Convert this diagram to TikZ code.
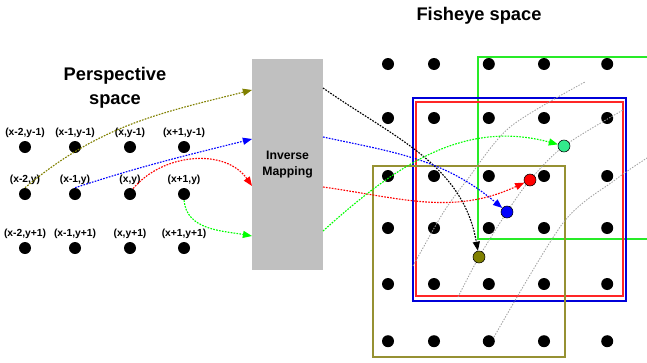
\documentclass[tikz,border=0pt]{standalone}
\usepackage{fontspec}
\setmainfont{Liberation Sans}
\usetikzlibrary{arrows.meta}
\definecolor{olv}{RGB}{128,128,0}
\definecolor{olvbox}{RGB}{150,145,50}
\definecolor{sprg}{RGB}{50,235,140}
\definecolor{grn}{RGB}{40,235,40}
\definecolor{boxgray}{RGB}{192,192,192}
\begin{document}
\begin{tikzpicture}
\tikzstyle{every node}=[inner sep=0pt]
\tikzstyle{pt}=[circle,fill=black,minimum size=0.3cm]
\tikzstyle{hit}=[circle,draw=black,line width=0.4pt,minimum size=0.3cm]
\tikzstyle{lbl}=[font=\fontsize{7.3}{8}\selectfont\bfseries,label distance=0.6mm]
\tikzstyle{ttl}=[font=\fontsize{13}{17}\selectfont\bfseries,align=center]
\tikzstyle{flow}=[dash pattern=on 1.2pt off 0.9pt,line width=0.8pt,
-{Triangle[length=6.5pt,width=5pt]}]
\tikzstyle{warp}=[gray!75,dash pattern=on 1pt off 1pt,line width=0.6pt]
\useasboundingbox (0,0) rectangle (16.175,9.05);

% perspective grid
\draw (2.875,6.85) node (ptitle) [ttl] {Perspective\\space};
\draw (0.625,5.375) node (l11) [pt,label={[lbl]above:{(x-2,y-1)}}] {};
\draw (1.875,5.375) node (l12) [pt,label={[lbl]above:{(x-1,y-1)}}] {};
\draw (3.25,5.375) node (l13) [pt,label={[lbl]above:{(x,y-1)}}] {};
\draw (4.6,5.375) node (l14) [pt,label={[lbl]above:{(x+1,y-1)}}] {};
\draw (0.625,4.2) node (l21) [pt,label={[lbl]above:{(x-2,y)}}] {};
\draw (1.875,4.2) node (l22) [pt,label={[lbl]above:{(x-1,y)}}] {};
\draw (3.25,4.2) node (l23) [pt,label={[lbl]above:{(x,y)}}] {};
\draw (4.6,4.2) node (l24) [pt,label={[lbl]above:{(x+1,y)}}] {};
\draw (0.625,2.85) node (l31) [pt,label={[lbl]above:{(x-2,y+1)}}] {};
\draw (1.875,2.85) node (l32) [pt,label={[lbl]above:{(x-1,y+1)}}] {};
\draw (3.25,2.85) node (l33) [pt,label={[lbl]above:{(x,y+1)}}] {};
\draw (4.6,2.85) node (l34) [pt,label={[lbl]above:{(x+1,y+1)}}] {};

% mapping box
\draw (7.19,4.94) node (inv) [fill=boxgray,minimum width=1.775cm,minimum height=5.275cm,
font=\fontsize{8.7}{11}\selectfont\bfseries,align=center] {Inverse\\Mapping};
\coordinate (i1) at (6.3,6.8);
\coordinate (i2) at (6.3,5.575);
\coordinate (i3) at (6.3,4.4);
\coordinate (i4) at (6.3,3.15);
\coordinate (e1) at (8.075,6.85);
\coordinate (e2) at (8.075,5.625);
\coordinate (e3) at (8.075,4.375);
\coordinate (e4) at (8.075,3.275);

% fisheye grid
\draw (11.975,8.65) node (ftitle) [ttl] {Fisheye space};
\draw (9.7,7.45) node (r11) [pt] {};
\draw (10.85,7.45) node (r12) [pt] {};
\draw (12.22,7.45) node (r13) [pt] {};
\draw (13.6,7.45) node (r14) [pt] {};
\draw (15.18,7.45) node (r15) [pt] {};
\draw (9.7,6.1) node (r21) [pt] {};
\draw (10.85,6.1) node (r22) [pt] {};
\draw (12.22,6.1) node (r23) [pt] {};
\draw (13.6,6.1) node (r24) [pt] {};
\draw (15.18,6.1) node (r25) [pt] {};
\draw (9.7,4.65) node (r31) [pt] {};
\draw (10.85,4.65) node (r32) [pt] {};
\draw (12.22,4.65) node (r33) [pt] {};
\draw (13.6,4.65) node (r34) [pt] {};
\draw (15.18,4.65) node (r35) [pt] {};
\draw (9.7,3.35) node (r41) [pt] {};
\draw (10.85,3.35) node (r42) [pt] {};
\draw (12.22,3.35) node (r43) [pt] {};
\draw (13.6,3.35) node (r44) [pt] {};
\draw (15.18,3.35) node (r45) [pt] {};
\draw (9.7,1.95) node (r51) [pt] {};
\draw (10.85,1.95) node (r52) [pt] {};
\draw (12.22,1.95) node (r53) [pt] {};
\draw (13.6,1.95) node (r54) [pt] {};
\draw (15.18,1.95) node (r55) [pt] {};
\draw (9.7,0.52) node (r61) [pt] {};
\draw (10.85,0.52) node (r62) [pt] {};
\draw (12.22,0.52) node (r63) [pt] {};
\draw (13.6,0.52) node (r64) [pt] {};
\draw (15.18,0.52) node (r65) [pt] {};

% windows
\draw [grn,line width=1pt] (16.175,7.625) -- (11.95,7.625) -- (11.95,3.075) -- (16.175,3.075);
\draw [blue!85!black,line width=1pt] (10.325,1.525) rectangle (15.65,6.6);
\draw [red!85,line width=1pt] (10.4,1.65) rectangle (15.575,6.5);
\draw [olvbox,line width=1pt] (9.325,0.125) rectangle (14.125,4.9);

% warped lines
\draw [warp] plot [smooth] coordinates {(10.325,2.4) (11.075,3.725) (11.675,4.55) (12.75,5.875) (14.625,7.0)};
\draw [warp] plot [smooth] coordinates {(11.45,1.625) (11.975,2.625) (12.675,3.75) (13.25,4.55) (14.1,5.4) (15.575,6.3)};
\draw [warp] plot [smooth] coordinates {(12.35,0.625) (14.075,3.475) (15.375,4.55) (16.175,5.1)};

% mapped points
\draw (11.975,2.625) node (cO) [hit,fill=olv] {};
\draw (12.675,3.75) node (cB) [hit,fill=blue] {};
\draw (13.25,4.55) node (cR) [hit,fill=red] {};
\draw (14.1,5.4) node (cG) [hit,fill=sprg] {};

\draw [flow,olv] (l21.north) to [out=40, in=194] (i1);
\draw [flow,blue] (l22.north) to [out=18, in=194] (i2);
\draw [flow,red] (l23.60) to [out=50, in=125] (i3);
\draw [flow,green] (l24.south) to [out=-85, in=170] (i4);

\draw [flow,black] (e1) to [out=-35, in=100] (cO);
\draw [flow,blue] (e2) to [out=-12, in=140] (cB);
\draw [flow,red] (e3) to [out=-8, in=205] (cR);
\draw [flow,green] (e4) to [out=42, in=165] (cG);
\end{tikzpicture}
\end{document}
